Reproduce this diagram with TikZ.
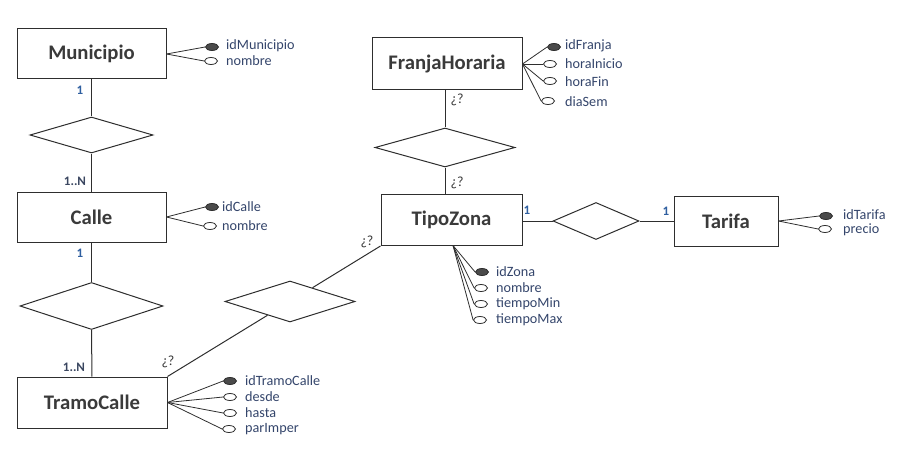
\documentclass[tikz,border=0pt]{standalone}
\usepackage{fontspec}
\setmainfont{Carlito}
\usetikzlibrary{shapes.geometric}
\definecolor{linec}{HTML}{2E2E2E}
\definecolor{enttext}{HTML}{3A3A3A}
\definecolor{attrc}{HTML}{34456B}
\definecolor{keyfill}{HTML}{4A4A4A}
\definecolor{oneblue}{HTML}{2F5FA0}
\definecolor{ncol}{HTML}{3A4660}
\definecolor{qcol}{HTML}{3A3A3A}
\begin{document}
\begin{tikzpicture}[x=1pt,y=-1pt,
  ent/.style={draw=linec, line width=1pt, fill=white, inner sep=0pt,
    font=\fontsize{20.7}{23}\selectfont\bfseries, text=enttext},
  rel/.style={diamond, draw=linec, line width=1pt, fill=white, inner sep=0pt},
  keyat/.style={ellipse, draw=linec, fill=keyfill, line width=0.8pt,
    minimum width=13pt, minimum height=7pt, inner sep=0pt},
  optat/.style={ellipse, draw=linec, fill=white, line width=0.8pt,
    minimum width=13pt, minimum height=7pt, inner sep=0pt},
  attext/.style={anchor=west, inner sep=0pt, text=attrc,
    font=\fontsize{14.2}{16}\selectfont},
  conn/.style={draw=linec, line width=1pt},
  aline/.style={draw=linec, line width=0.8pt},
  cardone/.style={inner sep=0pt, text=oneblue, font=\fontsize{13}{15}\selectfont\bfseries},
  cardn/.style={inner sep=0pt, text=ncol, font=\fontsize{13}{15}\selectfont\bfseries},
  cardq/.style={inner sep=0pt, text=qcol, font=\fontsize{14}{16}\selectfont}
]
\useasboundingbox (0,0) rectangle (910,468);

% entities
\node[ent, minimum width=149pt, minimum height=50pt] (mun) at (91.5,54) {Municipio};
\node[ent, minimum width=149pt, minimum height=50pt] (calle) at (91.5,217) {Calle};
\node[ent, minimum width=150pt, minimum height=51pt] (tramo) at (92,402.5) {TramoCalle};
\node[ent, minimum width=150pt, minimum height=52pt] (franja) at (447,64) {FranjaHoraria};
\node[ent, minimum width=141pt, minimum height=51pt] (tipo) at (451.5,220) {TipoZona};
\node[ent, minimum width=104pt, minimum height=50pt] (tarifa) at (726,221) {Tarifa};

% relationships
\node[rel, minimum width=123pt, minimum height=36pt] (r1) at (91.5,135) {};
\node[rel, minimum width=143pt, minimum height=47pt] (r2) at (91.5,306) {};
\node[rel, minimum width=130pt, minimum height=41pt] (r3) at (290,301.5) {};
\node[rel, minimum width=140pt, minimum height=39pt] (r4) at (445,147.5) {};
\node[rel, minimum width=86pt, minimum height=37pt] (r5) at (596,221) {};

% connectors
\draw[conn] (mun) -- (r1);
\draw[conn] (r1) -- (calle);
\draw[conn] (calle) -- (r2);
\draw[conn] (r2) -- (tramo);
\draw[conn] (tramo.north east) -- (r3);
\draw[conn] (r3) -- (tipo.south west);
\draw[conn] (r4 |- franja.south) -- (r4);
\draw[conn] (r4) -- (r4 |- tipo.north);
\draw[conn] (tipo.east |- r5) -- (r5);
\draw[conn] (r5) -- (tarifa.west |- r5);

% cardinalities
\node[cardone] (c1) at (80,90) {1};
\node[cardn] (c2) at (75,181) {1..N};
\node[cardone] (c3) at (80,253) {1};
\node[cardn] (c4) at (74,367) {1..N};
\node[cardq] (c5) at (168,362) {¿?};
\node[cardq] (c6) at (367,242) {¿?};
\node[cardq] (c7) at (457,100) {¿?};
\node[cardq] (c8) at (457,183) {¿?};
\node[cardone] (c9) at (527,210) {1};
\node[cardone] (c10) at (666,211) {1};

% Municipio attributes
\node[keyat] (m1) at (212,47) {};
\node[optat] (m2) at (211,61) {};
\node[attext] (m1t) at (226,46) {idMunicipio};
\node[attext] (m2t) at (226,61) {nombre};
\draw[aline] (mun.east) -- (m1.west);
\draw[aline] (mun.east) -- (m2.west);

% Calle attributes
\node[keyat] (k1) at (212,207) {};
\node[optat] (k2) at (210,226) {};
\node[attext] (k1t) at (222,207) {idCalle};
\node[attext] (k2t) at (222,226) {nombre};
\draw[aline] (calle.east) -- (k1.west);
\draw[aline] (calle.east) -- (k2.west);

% FranjaHoraria attributes
\node[keyat] (f1) at (554,47) {};
\node[optat] (f2) at (550,64) {};
\node[optat] (f3) at (550,81) {};
\node[optat] (f4) at (548,101) {};
\node[attext] (f1t) at (565,46) {idFranja};
\node[attext] (f2t) at (565,64) {horaInicio};
\node[attext] (f3t) at (565,82) {horaFin};
\node[attext] (f4t) at (565,102) {diaSem};
\foreach \a in {f1,f2,f3,f4} \draw[aline] (franja.east) -- (\a.west);

% TipoZona attributes
\coordinate (tz) at (453,245.5);
\node[keyat] (z1) at (482,272) {};
\node[optat] (z2) at (481,288) {};
\node[optat] (z3) at (481,304) {};
\node[optat] (z4) at (480,320) {};
\node[attext] (z1t) at (496,272) {idZona};
\node[attext] (z2t) at (496,288) {nombre};
\node[attext] (z3t) at (496,304) {tiempoMin};
\node[attext] (z4t) at (496,320) {tiempoMax};
\foreach \a in {z1,z2,z3,z4} \draw[aline] (tz) -- (\a.west);

% Tarifa attributes
\node[keyat] (t1) at (826,216) {};
\node[optat] (t2) at (825,229) {};
\node[attext] (t1t) at (843,215) {idTarifa};
\node[attext] (t2t) at (843,230) {precio};
\draw[aline] (tarifa.east) -- (t1.west);
\draw[aline] (tarifa.east) -- (t2.west);

% TramoCalle attributes
\node[keyat] (s1) at (230,381) {};
\node[optat] (s2) at (230,397) {};
\node[optat] (s3) at (230,413) {};
\node[optat] (s4) at (229,429) {};
\node[attext] (s1t) at (245,381) {idTramoCalle};
\node[attext] (s2t) at (245,397) {desde};
\node[attext] (s3t) at (245,413) {hasta};
\node[attext] (s4t) at (245,429) {parImper};
\foreach \a in {s1,s2,s3,s4} \draw[aline] (tramo.east) -- (\a.west);
\end{tikzpicture}
\end{document}
